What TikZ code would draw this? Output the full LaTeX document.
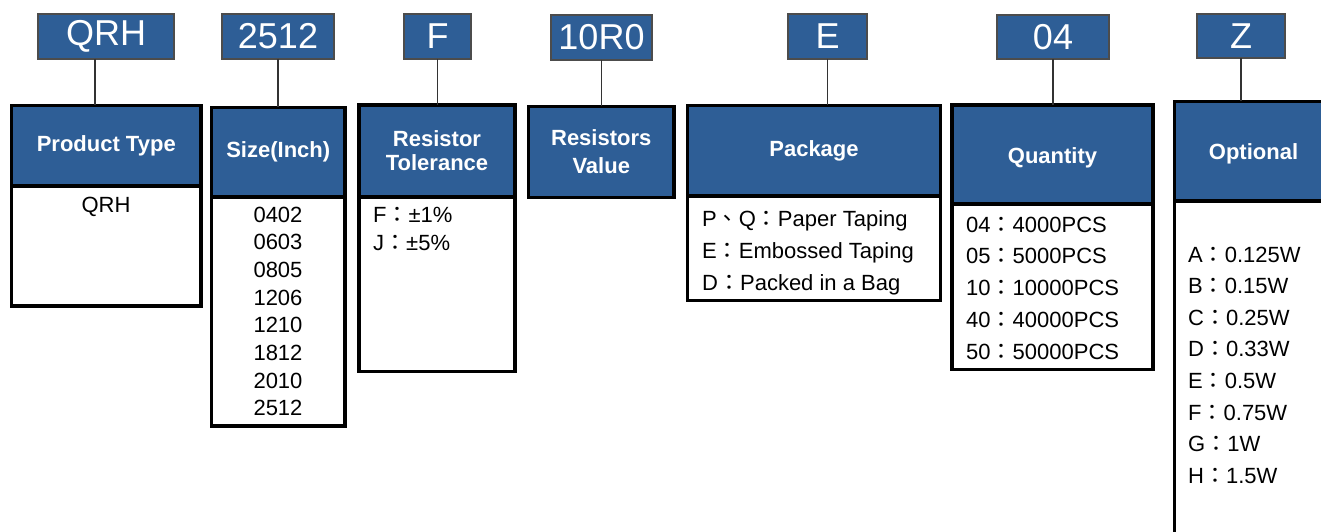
\documentclass[tikz,border=0pt]{standalone}
\usepackage{fontspec}
\setmainfont{Liberation Sans}
\newfontfamily\cjkfont{Noto Sans CJK TC}
\newcommand{\fcolon}{{\cjkfont ：}}
\newcommand{\dunhao}{{\cjkfont 、}}
\usetikzlibrary{positioning}
\definecolor{pnblue}{RGB}{46,94,150}

\begin{document}
\begin{tikzpicture}[x=1pt,y=-1pt,
                    cbox/.style={rectangle,draw=black!70,line width=1.2,fill=pnblue,text=white,
                                 inner sep=0,outer sep=0,minimum height=45,
                                 font=\fontsize{36}{36}\selectfont},
                    hbox/.style={rectangle,draw=black,line width=3.5,fill=pnblue,text=white,
                                 inner sep=0,outer sep=0,align=center,
                                 font=\bfseries\fontsize{22}{24}\selectfont},
                    bbox/.style={rectangle,draw=black,line width=3.5,fill=white,
                                 inner sep=0,outer sep=0},
                    itm/.style={inner sep=0,font=\fontsize{22}{22}\selectfont},
                    conn/.style={draw=black!80,line width=1.3}
                    ]
  \clip (0,0) rectangle (1321,532);
  \fill[white] (0,0) rectangle (1321,532);

  % code boxes
  \node[cbox,minimum width=136] (cType) at (106,36.5)   {QRH};
  \node[cbox,minimum width=112] (cSize) at (278,36.5)   {2512};
  \node[cbox,minimum width=67]  (cTol)  at (437.5,36.5) {F};
  \node[cbox,minimum width=101] (cVal)  at (601.5,37.5) {10R0};
  \node[cbox,minimum width=79]  (cPack) at (827.5,36.5) {E};
  \node[cbox,minimum width=112,minimum height=44] (cQty) at (1053,37) {04};
  \node[cbox,minimum width=88,minimum height=44]  (cOpt) at (1241,36) {Z};

  % headers
  \node[hbox,anchor=north west,minimum width=189.5,minimum height=80.5] (hType) at (11.5,105.5) {Product Type};
  \node[hbox,anchor=north west,minimum width=133.5,minimum height=89.5] (hSize) at (211.5,107.5) {Size(Inch)};
  \node[hbox,anchor=north west,minimum width=156,minimum height=92]    (hTol)  at (359,105) {Resistor\\Tolerance};
  \node[hbox,anchor=north west,minimum width=145.5,minimum height=91]  (hVal)  at (528.5,106.5) {Resistors\\[4pt]Value};
  \node[hbox,anchor=north west,minimum width=253,minimum height=90.5]  (hPack) at (687.5,105.5) {Package};
  \node[hbox,anchor=north west,minimum width=201,minimum height=99]    (hQty)  at (952,105) {\\[-2pt]Quantity};
  \node[hbox,anchor=north west,minimum width=158,minimum height=99.5]  (hOpt)  at (1174.5,101.5) {\\[-2pt]Optional};

  % bodies
  \node[bbox,below=0pt of hType,minimum width=189.5,minimum height=120]   (bType) {};
  \node[bbox,below=0pt of hSize,minimum width=133.5,minimum height=229]   (bSize) {};
  \node[bbox,below=0pt of hTol,minimum width=156,minimum height=174.5]    (bTol)  {};
  \node[bbox,below=0pt of hPack,minimum width=253,minimum height=104.5]   (bPack) {};
  \node[bbox,below=0pt of hQty,minimum width=201,minimum height=165.5]    (bQty)  {};
  \node[bbox,below=0pt of hOpt,minimum width=158,minimum height=360]      (bOpt)  {};

  % connectors
  \draw[conn] ([xshift=-11pt]cType.south) -- ([xshift=-11pt]cType.south |- hType.north);
  \draw[conn] (cSize.south) -- (cSize.south |- hSize.north);
  \draw[conn] (cTol.south)  -- (cTol.south |- hTol.north);
  \draw[conn] (cVal.south)  -- (cVal.south |- hVal.north);
  \draw[conn] (cPack.south) -- (cPack.south |- hPack.north);
  \draw[conn] (cQty.south)  -- (cQty.south |- hQty.north);
  \draw[conn] (cOpt.south)  -- (cOpt.south |- hOpt.north);

  % entries
  \node[itm,anchor=base] (tQRH) at (106,212) {QRH};
  \foreach \t [count=\i from 0] in {0402,0603,0805,1206,1210,1812,2010,2512}
    \node[itm,anchor=base] (s\i) at (278,222+27.7*\i) {\t};
  \foreach \t [count=\i from 0] in {F\fcolon ±1\%,J\fcolon ±5\%}
    \node[itm,anchor=base west] (r\i) at (373,222+28*\i) {\t};
  \foreach \t [count=\i from 0] in {P\dunhao Q\fcolon Paper Taping,E\fcolon Embossed Taping,D\fcolon Packed in a Bag}
    \node[itm,anchor=base west] (p\i) at (702,226+32*\i) {\t};
  \foreach \t [count=\i from 0] in {04\fcolon 4000PCS,05\fcolon 5000PCS,10\fcolon 10000PCS,40\fcolon 40000PCS,50\fcolon 50000PCS}
    \node[itm,anchor=base west] (q\i) at (966,232+31.9*\i) {\t};
  \foreach \t [count=\i from 0] in {A\fcolon 0.125W,B\fcolon 0.15W,C\fcolon 0.25W,D\fcolon 0.33W,E\fcolon 0.5W,F\fcolon 0.75W,G\fcolon 1W,H\fcolon 1.5W}
    \node[itm,anchor=base west] (o\i) at (1188,262+31.6*\i) {\t};
\end{tikzpicture}
\end{document}
